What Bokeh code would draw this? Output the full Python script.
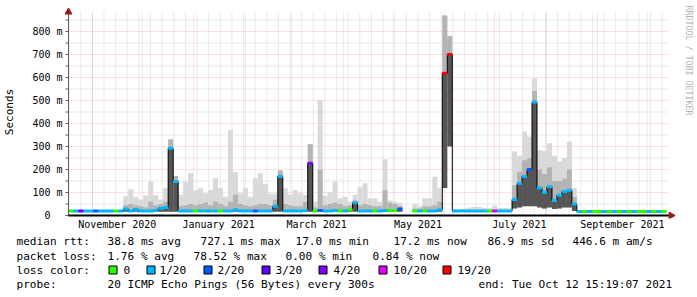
import math
from datetime import datetime, timedelta
from bokeh.plotting import figure
from bokeh.layouts import column
from bokeh.models import Range1d, FixedTicker
from bokeh.core.properties import value
from bokeh.embed import file_html
from bokeh.resources import INLINE

nan = float("nan")
EPOCH = datetime(1970, 1, 1)


def to_ms(d):
    return (d - EPOCH).total_seconds() * 1000.0


# ---------------- data ----------------
start = datetime(2020, 10, 17, 15, 19, 7)
end = datetime(2021, 10, 12, 15, 19, 7)
bin_days = 3  # each value below covers 3 days

# median round-trip time (ms)
med = [
    20, 20, 20, 20, 20, 20, 20, 20, 20, 20,
    20, 28, 20, 26, 20, 20, 20, 22, 32, 35,
    292, 148, 20, 20, 20, 20, 20, 20, 20, 20,
    20, 20, 20, 25, 20, 20, 20, 20, 20, 20,
    20, 40, 170, 20, 20, 20, 20, 22, 227, 20,
    22, 20, 20, 22, 20, 20, 25, 55, 20, 20,
    20, 20, 20, 22, 22, 22, 28, nan, nan, 20,
    20, 20, 20, 20, 25, 619, 700, 20, 20, 20,
    20, 20, 20, 20, 20, 20, 20, 20, 20, 70,
    140, 170, 200, 493, 120, 100, 125, 65, 88, 104,
    110, 50, 17, 17, 17, 17, 17, 17, 17, 17,
    17, 17, 17, 17, 17, 17, 17, 17, 17, 17,
]
# slowest ping (top of light smoke), ms
mx = [
    22, 22, 22, 22, 22, 22, 22, 22, 22, 22,
    22, 84, 114, 80, 70, 87, 148, 88, 70, 118,
    330, 172, 90, 148, 184, 110, 119, 97, 111, 162,
    119, 82, 373, 188, 97, 119, 82, 162, 184, 137,
    95, 95, 196, 119, 90, 111, 97, 90, 310, 60,
    502, 85, 100, 148, 75, 82, 60, 90, 123, 140,
    75, 75, 60, 245, 65, 60, 55, nan, nan, 50,
    40, 75, 75, 169, 120, 870, 780, 28, 28, 30,
    35, 37, 37, 33, 32, 42, 33, 33, 32, 278,
    260, 365, 343, 596, 285, 280, 314, 260, 235, 250,
    322, 120, 18, 18, 18, 18, 18, 18, 18, 18,
    18, 18, 18, 18, 18, 18, 18, 18, 18, 18,
]
# upper part of the ping spread (top of darker smoke), ms
hi = [
    21, 21, 21, 21, 21, 21, 21, 21, 21, 21,
    21, 45, 50, 45, 40, 35, 60, 45, 50, 60,
    330, 172, 40, 45, 50, 45, 50, 55, 45, 60,
    50, 40, 60, 90, 50, 45, 40, 45, 50, 50,
    45, 68, 196, 50, 45, 40, 40, 60, 310, 35,
    200, 45, 50, 55, 50, 40, 45, 65, 45, 50,
    45, 40, 40, 110, 55, 50, 40, nan, nan, 30,
    30, 40, 40, 45, 60, 870, 780, 22, 22, 22,
    22, 22, 22, 22, 22, 24, 22, 22, 22, 130,
    190, 240, 250, 540, 200, 180, 210, 150, 150, 160,
    200, 80, 17.5, 17.5, 17.5, 17.5, 17.5, 17.5, 17.5, 17.5,
    17.5, 17.5, 17.5, 17.5, 17.5, 17.5, 17.5, 17.5, 17.5, 17.5,
]
# fastest ping (bottom of smoke), ms
mn = [
    16, 16, 16, 16, 16, 16, 16, 16, 16, 16,
    16, 16, 16, 16, 16, 16, 16, 16, 16, 16,
    16, 16, 16, 16, 16, 16, 16, 16, 16, 16,
    16, 16, 16, 16, 16, 16, 16, 16, 16, 16,
    16, 16, 16, 16, 16, 16, 16, 16, 16, 16,
    16, 16, 16, 16, 16, 16, 16, 16, 16, 16,
    16, 16, 16, 16, 16, 16, 16, nan, nan, 16,
    16, 16, 16, 16, 16, 120, 300, 16, 16, 16,
    16, 16, 16, 16, 16, 16, 16, 16, 16, 30,
    35, 40, 40, 40, 35, 30, 35, 28, 30, 35,
    35, 20, 15, 15, 15, 15, 15, 15, 15, 15,
    15, 15, 15, 15, 15, 15, 15, 15, 15, 15,
]
# packet loss class (index into loss_labels)
loss = [
    0, 1, 3, 1, 1, 2, 1, 1, 1, 0,
    1, 1, 1, 1, 1, 1, 1, 1, 1, 1,
    1, 1, 1, 1, 1, 0, 1, 1, 1, 1,
    0, 1, 1, 1, 1, 1, 1, 2, 1, 1,
    1, 1, 1, 1, 1, 1, 1, 1, 4, 0,
    2, 1, 1, 1, 0, 1, 0, 1, 1, 1,
    1, 0, 1, 1, 0, 0, 2, 1, 1, 0,
    1, 0, 1, 1, 1, 6, 6, 1, 1, 1,
    1, 1, 1, 1, 0, 5, 1, 1, 1, 1,
    1, 1, 2, 1, 1, 1, 1, 1, 1, 1,
    1, 1, 1, 0, 1, 0, 0, 1, 0, 1,
    0, 1, 0, 1, 0, 0, 1, 0, 1, 0,
]
loss_labels = ["0", "1/20", "2/20", "3/20", "4/20", "10/20", "19/20"]
loss_colors = ["#26ff00", "#00b8ff", "#0059ff", "#5e00ff", "#7e00ff", "#dd00ff", "#ff0000"]

y_ticks = [0, 100, 200, 300, 400, 500, 600, 700, 800]
y_minor = [50, 150, 250, 350, 450, 550, 650, 750, 850]
y_tick_labels = ["0\u00a0\u00a0", "100 m", "200 m", "300 m", "400 m", "500 m", "600 m", "700 m", "800 m"]
x_label_months = [(2020, 11), (2021, 1), (2021, 3), (2021, 5), (2021, 7), (2021, 9)]
x_label_names = ["November 2020", "January 2021", "March 2021", "May 2021", "July 2021", "September 2021"]

legend_rtt = [(16, "median rtt:"), (107, "38.8 ms avg"), (200, "727.1 ms max"), (295, "17.0 ms min"),
              (393, "17.2 ms now"), (487, "86.9 ms sd"), (572, "446.6 m am/s")]
legend_loss = [(16, "packet loss:"), (107, "1.76 % avg"), (193, "78.52 % max"), (285, "0.00 % min"),
               (372, "0.84 % now")]
legend_probe = [(16, "probe:"), (107, "20 ICMP Echo Pings (56 Bytes) every 300s"),
                (478, "end: Tue Oct 12 15:19:07 2021")]
tag_text = "RRDTOOL / TOBI OETIKER"

# ---------------- layout (pixels) ----------------
W, TOTAL_H = 697, 297
TOP_H = 234
AX, AY = 66, 215            # where the time axis and the value axis meet
DATA_W, DATA_H = 600, 200   # size of the data area
FL, FT, FR, FB = 62, 5, 697, 218  # frame edges on the canvas
FONT = "DejaVu Sans Mono"

x0 = to_ms(start)
x1 = to_ms(end)
mpp = (x1 - x0) / DATA_W          # ms per pixel
Y_MAX = 869.6                     # value at the top of the data area
vpp = Y_MAX / DATA_H              # value per pixel

p = figure(width=W, height=TOP_H, x_axis_type="datetime",
           x_range=Range1d(x0 - (AX - FL) * mpp, x0 + (FR - AX) * mpp),
           y_range=Range1d(-(FB - AY) * vpp, (AY - FT) * vpp),
           output_backend="svg", toolbar_location=None, title=None,
           min_border_left=FL, min_border_top=FT,
           min_border_right=W - FR, min_border_bottom=TOP_H - FB,
           background_fill_color="white", border_fill_color="white",
           outline_line_color=None)
p.xgrid.visible = False
p.ygrid.visible = False

# ---------- grid lines (dotted), drawn from tick positions ----------
month_starts = []
yy, mm = 2020, 11
while (yy, mm) <= (2021, 10):
    month_starts.append(to_ms(datetime(yy, mm, 1)))
    mm += 1
    if mm > 12:
        mm, yy = 1, yy + 1
weeks = []
d = datetime(2020, 10, 18)
while d < end:
    weeks.append(to_ms(d))
    d += timedelta(days=7)

MAJ = dict(line_color="#ff0000", line_alpha=0.24, line_width=1, line_dash="1 1")
MIN = dict(line_color="#c4c4c4", line_alpha=0.7, line_width=1, line_dash="1 1")
gx_end = x1 + 2 * mpp
gy_top = Y_MAX + 3 * vpp
p.segment(x0=[x0] * len(y_minor), x1=[gx_end] * len(y_minor), y0=y_minor, y1=y_minor, **MIN)
p.segment(x0=weeks, x1=weeks, y0=[0] * len(weeks), y1=[gy_top] * len(weeks), **MIN)
p.segment(x0=[x0] * 8, x1=[gx_end] * 8, y0=y_ticks[1:], y1=y_ticks[1:], **MAJ)
p.segment(x0=month_starts, x1=month_starts, y0=[0] * len(month_starts),
          y1=[gy_top] * len(month_starts), **MAJ)

# ---------------- axes: labels from Bokeh axes in the side panels ----------------
p.yaxis.ticker = FixedTicker(ticks=y_ticks)
p.yaxis.major_label_overrides = {t: s for t, s in zip(y_ticks, y_tick_labels)}
p.yaxis.axis_label = "Seconds"
p.yaxis.axis_label_text_font = FONT
p.yaxis.axis_label_text_font_size = "11px"
p.yaxis.axis_label_text_font_style = "normal"
p.yaxis.axis_label_text_color = "black"
p.yaxis.axis_label_standoff = 13
p.yaxis.major_label_text_font = FONT
p.yaxis.major_label_text_font_size = "10px"
p.yaxis.major_label_text_color = "black"
p.yaxis.major_label_standoff = 2
p.yaxis.major_tick_out = 0
p.yaxis.major_tick_in = 0
p.yaxis.minor_tick_out = 0
p.yaxis.minor_tick_in = 0
p.yaxis.axis_line_color = None

label_pos = [to_ms(datetime(a, b, 16)) for a, b in x_label_months]
p.xaxis.ticker = FixedTicker(ticks=label_pos)
p.xaxis.major_label_overrides = {int(t): s for t, s in zip(label_pos, x_label_names)}
p.xaxis.major_label_text_font = FONT
p.xaxis.major_label_text_font_size = "10px"
p.xaxis.major_label_text_color = "black"
p.xaxis.major_label_standoff = 0
p.xaxis.major_tick_out = 0
p.xaxis.major_tick_in = 0
p.xaxis.minor_tick_out = 0
p.xaxis.minor_tick_in = 0
p.xaxis.axis_line_color = None

# ---------------- smoke + median ----------------
N = len(med)
bin_ms = bin_days * 86400000.0
valid = [i for i in range(N) if not math.isnan(med[i])]
lefts = [x0 + i * bin_ms for i in valid]
rights = [x0 + (i + 1) * bin_ms for i in valid]
centers = [x0 + (i + 0.5) * bin_ms for i in valid]

p.quad(left=lefts, right=rights, bottom=[mn[i] for i in valid], top=[mx[i] for i in valid],
       fill_color="#d9d9d9", line_color=None)
p.quad(left=lefts, right=rights, bottom=[med[i] for i in valid], top=[hi[i] for i in valid],
       fill_color="#b4b4b4", line_color=None)
p.quad(left=lefts, right=rights, bottom=[mn[i] for i in valid], top=[med[i] for i in valid],
       fill_color="#555555", line_color=None)

step_x = [x0 + (i + 0.5) * bin_ms for i in range(N)]
p.step(x=step_x, y=med, mode="center", line_color="black", line_width=1)

p.rect(x=centers, y=[med[i] for i in valid], width=bin_ms, height=3, height_units="screen",
       fill_color=[loss_colors[loss[i]] for i in valid], line_color=None)

# ---------------- axis rules, ticks and arrow heads ----------------
AXC = "#606060"
all_ticks = sorted(y_ticks + y_minor)
p.segment(x0=[x0 - 3 * mpp] * len(all_ticks), x1=[x0] * len(all_ticks),
          y0=all_ticks, y1=all_ticks, line_color=AXC, line_width=1)
p.segment(x0=[x0], x1=[x0], y0=[0], y1=[Y_MAX + 4 * vpp], line_color=AXC, line_width=1)
p.segment(x0=[x0], x1=[x1 + 3 * mpp], y0=[0], y1=[0], line_color="black", line_width=2)

ARROW = "#9b1c1c"
p.scatter(x=[x0], y=[Y_MAX + 3.5 * vpp], marker="triangle", size=7,
          fill_color=ARROW, line_color=ARROW)
p.scatter(x=[x1 + 4.5 * mpp], y=[0], marker="triangle", size=7, angle=-math.pi / 2,
          fill_color=ARROW, line_color=ARROW)

# vertical rrdtool tag
p.text(x=[x0 + (688.5 - AX) * mpp], y=[(AY - 5) * vpp], text=[tag_text], angle=-math.pi / 2,
       text_font=value(FONT), text_font_size="8.3px", text_color="#b4b4b4",
       text_baseline="middle", text_align="left")

# ---------------- legend (second figure, pixel coordinates) ----------------
q = figure(width=W, height=TOTAL_H - TOP_H, x_range=Range1d(0, W), y_range=Range1d(TOTAL_H, TOP_H),
           output_backend="svg", toolbar_location=None, title=None,
           x_axis_type=None, y_axis_type=None,
           min_border_left=0, min_border_right=0, min_border_top=0, min_border_bottom=0,
           background_fill_color="white", border_fill_color="white",
           outline_line_color=None)
q.xgrid.visible = False
q.ygrid.visible = False
for fig in (p, q):
    if "frame_align" in type(fig).properties():
        fig.frame_align = False

tx, ty, tt = [], [], []
for cx, s in legend_rtt:
    tx.append(cx); ty.append(241); tt.append(s)
for cx, s in legend_loss:
    tx.append(cx); ty.append(255.5); tt.append(s)
tx.append(16); ty.append(269.5); tt.append("loss color:")
box_x = [108, 146, 203, 261, 318, 378, 442]
lab_x = [123, 159, 217, 275, 333, 393, 457]
for lx, s in zip(lab_x, loss_labels):
    tx.append(lx); ty.append(269.5); tt.append(s)
for cx, s in legend_probe:
    tx.append(cx); ty.append(283.5); tt.append(s)

q.text(x=tx, y=ty, text=tt, text_font=value(FONT), text_font_size="11.1px",
       text_color="black", text_baseline="middle", text_align="left")
q.quad(left=[b + 0.5 for b in box_x], right=[b + 8.5 for b in box_x],
       top=[265.5] * len(box_x), bottom=[273.5] * len(box_x),
       fill_color=loss_colors, line_color="black", line_width=1)

layout = column(p, q, spacing=0)
open("out.html", "w").write(file_html(layout, INLINE))
